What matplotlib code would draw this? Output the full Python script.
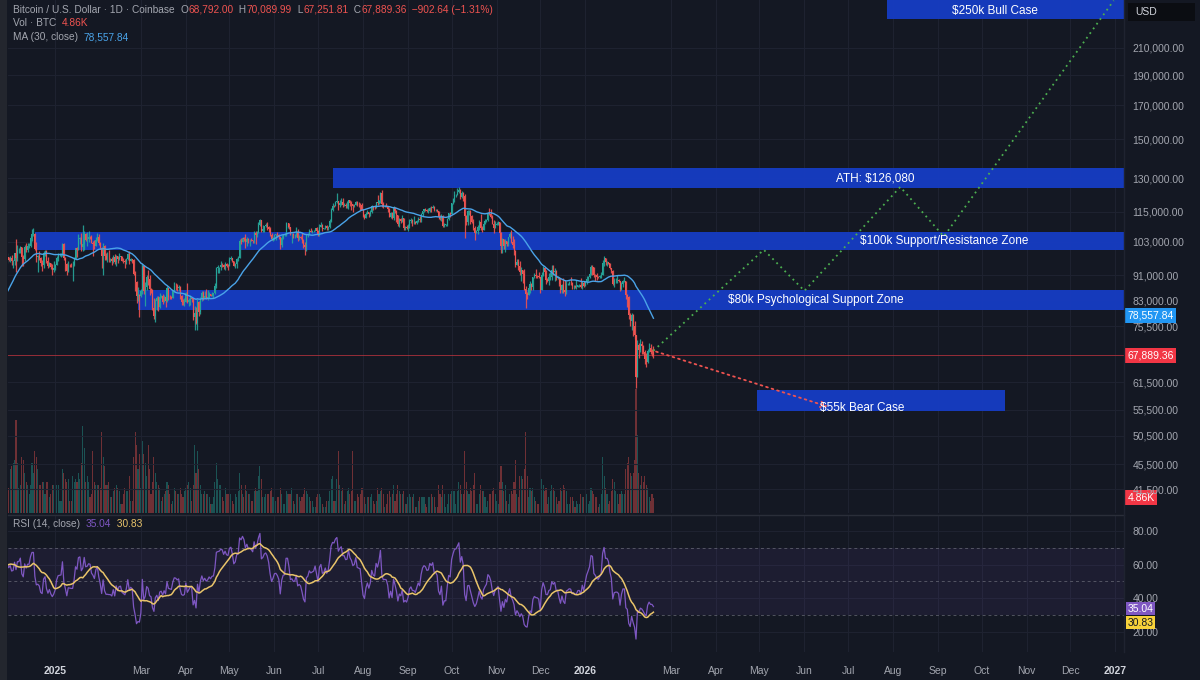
import matplotlib
matplotlib.use("Agg")
import matplotlib.pyplot as plt
import matplotlib.dates as mdates
import matplotlib.transforms as mtransforms
from matplotlib.patches import Rectangle
from matplotlib.ticker import NullLocator
import numpy as np
import pandas as pd

plt.rcParams['font.family'] = ['Liberation Sans', 'DejaVu Sans']

# ---------------- data ----------------
# prices in thousand USD, volume in thousand BTC, one value per day

# closes before the visible window (2024-10-30 .. 2024-11-28), only for MA / RSI warm-up
warmup_close = [72.3, 70.2, 69.5, 69.3, 68.7, 67.8, 69.4, 75.6, 75.9, 76.5,
                76.7, 80.4, 88.7, 87.9, 90.1, 87.3, 91.1, 90.6, 89.8, 90.5,
                92.3, 94.3, 98.4, 98.9, 97.7, 98.0, 93.1, 91.9, 95.9, 95.6]

first_day = "2024-11-29"

close = [
    97.5, 96.4,
    # dec 2024
    97.2, 95.8, 96.0, 98.8, 97.0, 99.9, 99.9, 101.2, 97.4, 96.6,
    101.1, 100.0, 101.4, 101.4, 104.3, 106.1, 106.1, 100.2, 97.5, 97.7,
    97.2, 95.1, 94.7, 98.7, 99.4, 95.8, 94.2, 95.2, 93.7, 92.8, 93.4,
    # jan 2025
    94.4, 96.9, 98.1, 98.2, 98.3, 102.1, 96.9, 95.0, 92.5, 94.7,
    94.6, 94.5, 94.5, 96.5, 100.5, 99.9, 104.1, 104.4, 101.1, 102.0,
    106.1, 103.7, 103.9, 104.8, 104.7, 102.6, 102.1, 101.3, 103.7, 104.7, 102.4,
    # feb
    100.6, 97.7, 101.4, 97.9, 96.6, 96.6, 96.5, 96.5, 96.1, 97.4,
    95.7, 97.9, 96.6, 97.5, 97.6, 96.1, 95.8, 95.5, 96.6, 98.3,
    96.1, 96.6, 96.3, 91.5, 88.7, 84.3, 84.7, 84.4,
    # mar
    86.0, 94.3, 86.1, 87.2, 90.6, 89.9, 86.7, 86.2, 80.7, 78.5,
    82.9, 83.7, 81.1, 84.0, 84.3, 82.6, 84.0, 82.7, 86.8, 84.2,
    84.0, 83.8, 86.1, 87.5, 87.4, 86.9, 87.2, 84.4, 82.6, 82.3, 82.5,
    # apr
    85.2, 82.5, 83.1, 83.8, 83.5, 78.2, 79.2, 76.3, 82.6, 79.6,
    83.4, 85.3, 83.7, 84.5, 83.6, 84.0, 84.9, 84.4, 85.1, 85.2,
    87.5, 93.4, 93.7, 93.9, 94.7, 94.6, 93.8, 94.9, 94.3, 94.2,
    # may
    96.5, 96.9, 95.9, 94.3, 94.8, 96.8, 97.0, 103.2, 102.9, 104.6,
    104.1, 102.8, 104.2, 103.5, 103.7, 103.5, 103.2, 106.5, 105.6, 106.8,
    109.6, 111.7, 107.3, 107.8, 109.0, 109.4, 108.9, 107.8, 105.6, 103.9, 104.6,
    # jun
    105.7, 105.8, 105.4, 104.7, 101.6, 104.4, 105.6, 105.7, 110.3, 110.3,
    108.7, 105.9, 106.1, 105.5, 105.6, 106.8, 104.6, 104.9, 104.6, 103.3,
    101.6, 100.9, 105.6, 106.0, 107.3, 106.9, 107.1, 107.3, 108.4, 107.1,
    # jul
    105.7, 108.9, 109.6, 108.0, 108.2, 109.2, 108.3, 108.9, 111.3, 115.9,
    117.5, 117.4, 119.1, 119.8, 117.7, 118.7, 119.3, 117.9, 117.9, 117.3,
    117.4, 119.9, 118.8, 118.4, 117.6, 117.9, 119.4, 118.0, 117.9, 117.8, 115.8,
    # aug
    113.3, 112.5, 114.2, 115.1, 114.1, 115.0, 117.5, 116.7, 116.5, 119.3,
    118.7, 120.2, 123.3, 118.4, 117.4, 117.5, 117.4, 116.2, 112.9, 114.3,
    112.5, 116.9, 115.4, 113.5, 110.1, 111.8, 111.2, 112.6, 108.4, 108.8, 108.2,
    # sep
    109.2, 111.2, 111.7, 110.7, 110.7, 110.2, 111.1, 112.1, 111.5, 113.9,
    115.5, 116.1, 115.9, 115.3, 115.4, 116.8, 116.5, 117.1, 115.7, 115.7,
    115.3, 112.7, 112.0, 113.3, 109.0, 109.7, 109.7, 112.1, 114.4, 114.1,
    # oct
    118.6, 120.6, 122.3, 122.4, 123.5, 124.8, 121.4, 123.3, 121.7, 113.2,
    110.6, 115.2, 115.3, 113.1, 110.8, 108.2, 106.5, 107.2, 108.7, 110.6,
    108.5, 107.6, 110.1, 111.0, 111.7, 114.6, 114.1, 112.9, 110.1, 108.3, 109.6,
    # nov
    110.1, 110.6, 106.5, 101.5, 103.9, 101.3, 103.4, 102.3, 104.7, 106.0,
    103.0, 101.7, 99.7, 94.4, 95.5, 94.2, 92.2, 92.9, 91.5, 86.6,
    85.1, 84.7, 86.8, 88.3, 87.3, 90.5, 91.3, 90.9, 90.8, 90.4,
    # dec
    86.3, 91.3, 93.5, 92.1, 89.4, 89.3, 90.4, 90.6, 92.7, 92.0,
    92.5, 90.3, 90.3, 88.2, 86.4, 87.9, 86.2, 85.5, 88.1, 88.3,
    88.6, 88.5, 87.4, 87.6, 87.2, 87.3, 87.8, 87.8, 87.1, 88.4, 87.5,
    # jan 2026
    88.7, 89.9, 90.6, 91.4, 93.8, 93.7, 91.3, 91.0, 90.5, 90.4,
    90.8, 91.2, 95.3, 97.0, 95.5, 95.5, 95.1, 93.6, 92.6, 88.3,
    89.4, 89.5, 89.5, 89.2, 86.6, 88.3, 89.2, 89.2, 84.6, 84.1, 78.6,
    # feb 2026
    76.9, 78.7, 75.7, 73.0, 62.7, 70.5, 69.3, 70.6, 70.1, 68.8,
    67.0, 66.2, 68.9, 69.8, 68.8, 68.79, 67.889,
]

high = [
    98.7, 97.5,
    97.9, 98.2, 96.4, 99.0, 103.9, 101.9, 100.5, 101.3, 101.2, 98.2,
    101.9, 102.5, 102.5, 102.6, 105.2, 107.8, 108.3, 106.5, 102.8, 98.1,
    99.5, 97.4, 96.4, 99.4, 99.9, 99.9, 97.3, 95.5, 95.2, 94.9, 96.1,
    94.9, 97.8, 98.9, 98.7, 98.8, 102.5, 102.7, 97.3, 95.4, 95.8,
    95.0, 95.4, 95.9, 97.4, 100.7, 100.9, 105.9, 104.9, 106.3, 109.4,
    107.3, 106.4, 106.8, 107.1, 105.3, 105.4, 103.2, 103.8, 104.8, 106.4, 106.0,
    102.8, 101.0, 102.5, 101.7, 98.8, 99.2, 100.1, 96.9, 97.3, 98.0,
    98.4, 98.1, 97.3, 98.8, 97.9, 97.7, 97.0, 96.7, 96.9, 98.7,
    99.5, 96.9, 96.7, 96.5, 92.5, 89.3, 87.1, 85.1,
    86.5, 95.0, 94.4, 88.9, 91.0, 92.8, 91.2, 86.9, 86.5, 83.9,
    83.6, 84.4, 84.3, 85.3, 84.6, 85.0, 84.7, 84.1, 87.4, 87.0,
    84.8, 84.4, 86.1, 88.7, 88.4, 88.2, 87.7, 87.4, 84.6, 83.5, 83.9,
    85.5, 88.5, 83.9, 84.7, 84.2, 83.8, 81.2, 80.9, 83.6, 82.7,
    84.2, 85.9, 86.0, 85.8, 86.5, 86.4, 85.5, 85.1, 85.6, 85.3,
    88.5, 93.8, 94.7, 94.0, 95.8, 95.3, 95.0, 95.6, 95.4, 95.0,
    97.4, 97.9, 96.9, 96.0, 95.2, 96.9, 97.7, 103.9, 104.3, 104.9,
    104.9, 105.8, 104.9, 104.3, 104.1, 104.5, 103.7, 107.1, 107.1, 107.3,
    110.8, 111.9, 111.7, 109.5, 109.3, 110.4, 110.7, 109.3, 108.9, 106.4, 104.9,
    105.9, 105.9, 106.8, 105.9, 105.0, 105.4, 106.0, 106.4, 110.6, 110.4,
    110.4, 108.7, 106.2, 106.2, 106.0, 108.9, 107.8, 105.6, 105.2, 106.5,
    104.0, 103.0, 106.1, 106.3, 108.1, 108.2, 107.7, 107.5, 108.5, 108.8,
    107.5, 109.8, 110.6, 109.8, 108.4, 109.7, 109.7, 109.2, 111.9, 116.8,
    118.9, 118.0, 119.5, 123.2, 119.8, 120.1, 120.9, 120.9, 118.6, 118.9,
    119.7, 120.3, 120.1, 119.5, 118.4, 118.3, 119.8, 119.8, 119.3, 118.8, 118.9,
    116.1, 114.0, 114.7, 115.7, 115.1, 115.7, 117.7, 117.6, 117.9, 119.3,
    122.3, 120.3, 123.7, 124.5, 119.2, 117.9, 118.6, 117.6, 116.8, 114.7,
    114.8, 117.3, 117.0, 115.6, 113.6, 112.4, 112.6, 113.5, 112.6, 109.0, 109.5,
    109.9, 111.8, 112.6, 112.0, 113.4, 111.3, 111.6, 112.9, 113.3, 114.3,
    115.5, 116.3, 116.8, 116.1, 116.8, 117.0, 117.3, 117.9, 117.5, 116.1,
    116.0, 115.4, 113.5, 113.9, 113.6, 110.3, 109.8, 112.4, 114.5, 114.8,
    118.7, 121.0, 123.9, 122.9, 125.6, 126.1, 125.1, 124.2, 123.8, 122.6,
    113.6, 115.7, 115.9, 115.6, 113.6, 111.8, 109.2, 107.5, 109.4, 111.7,
    114.0, 109.0, 111.2, 112.0, 111.9, 115.0, 116.4, 116.0, 113.6, 111.7, 111.2,
    110.6, 111.2, 110.7, 106.6, 104.5, 104.2, 104.1, 103.4, 105.0, 106.7,
    107.5, 105.3, 104.1, 99.8, 96.7, 96.6, 96.0, 93.8, 93.0, 93.2,
    87.5, 85.6, 88.0, 89.2, 88.6, 90.6, 91.9, 93.1, 91.2, 92.0,
    90.4, 92.3, 94.1, 94.0, 92.7, 90.3, 91.7, 92.3, 94.6, 94.5,
    93.6, 92.8, 90.7, 90.6, 90.1, 88.2, 90.3, 89.5, 89.0, 88.6,
    89.1, 90.5, 88.9, 87.9, 88.0, 89.5, 88.0, 88.3, 90.3, 89.1, 89.3,
    88.9, 90.9, 90.7, 91.8, 94.7, 94.4, 93.7, 91.6, 91.9, 90.9,
    91.3, 92.3, 96.2, 97.9, 97.1, 95.9, 95.6, 95.4, 93.5, 92.9,
    90.3, 90.3, 91.1, 89.8, 89.3, 88.8, 89.5, 90.6, 89.3, 84.9, 84.3,
    79.4, 79.3, 79.0, 76.9, 73.1, 71.7, 71.0, 72.1, 71.5, 70.5,
    69.2, 68.4, 69.5, 70.9, 70.6, 69.5, 70.09,
]

low = [
    95.4, 96.1,
    95.7, 94.5, 93.6, 94.7, 92.1, 95.9, 99.0, 98.7, 94.2, 94.3,
    95.9, 99.3, 99.2, 100.6, 101.2, 103.3, 105.3, 100.0, 95.7, 92.2,
    96.4, 94.2, 92.4, 93.4, 97.6, 95.2, 93.5, 94.0, 93.3, 91.3, 92.0,
    92.7, 94.4, 96.0, 97.8, 97.3, 97.9, 96.2, 92.5, 91.2, 92.2,
    93.8, 93.7, 89.3, 94.3, 96.5, 97.4, 99.9, 102.3, 99.6, 99.5,
    100.1, 103.3, 101.3, 102.8, 104.1, 102.5, 97.8, 100.3, 101.3, 103.3, 101.6,
    100.3, 93.4, 91.2, 96.2, 96.2, 95.7, 95.6, 95.7, 94.7, 95.3,
    94.9, 94.1, 95.2, 96.3, 97.2, 96.0, 95.2, 93.4, 95.0, 96.4,
    94.9, 96.0, 95.2, 91.3, 86.1, 82.3, 82.8, 78.2,
    84.0, 85.0, 85.1, 81.4, 86.3, 87.8, 84.7, 85.3, 80.0, 77.5,
    76.6, 80.1, 79.9, 80.8, 83.7, 82.0, 82.5, 81.1, 82.6, 83.2,
    83.6, 83.6, 83.8, 85.6, 86.3, 85.9, 85.8, 83.6, 81.6, 81.6, 81.3,
    82.4, 82.3, 81.2, 81.7, 82.4, 77.2, 74.5, 76.2, 74.6, 78.5,
    78.9, 82.8, 83.0, 83.7, 83.6, 83.1, 83.9, 84.3, 84.4, 83.9,
    85.1, 87.0, 91.9, 91.7, 92.9, 93.9, 93.1, 92.9, 93.7, 92.9,
    94.1, 96.3, 95.7, 94.2, 93.5, 93.4, 95.8, 96.9, 102.2, 102.8,
    103.1, 100.8, 101.4, 102.6, 101.4, 103.1, 102.6, 102.6, 102.0, 104.9,
    106.3, 109.3, 106.9, 106.9, 106.7, 108.9, 107.5, 106.7, 105.3, 103.7, 103.1,
    103.8, 103.7, 104.9, 104.2, 100.4, 101.1, 104.0, 105.1, 105.3, 108.4,
    108.1, 105.7, 102.7, 104.3, 104.5, 105.0, 103.4, 103.5, 103.9, 102.4,
    100.8, 98.2, 99.6, 104.7, 105.8, 106.6, 106.4, 106.7, 107.2, 106.8,
    105.3, 105.2, 108.6, 107.3, 107.8, 107.8, 107.5, 107.5, 108.4, 110.6,
    115.2, 117.1, 117.3, 118.9, 115.8, 117.0, 117.8, 116.9, 117.3, 116.5,
    116.5, 116.1, 117.3, 115.9, 114.7, 117.2, 117.8, 117.5, 117.2, 115.9, 115.6,
    112.7, 112.0, 112.2, 114.0, 112.7, 113.4, 114.3, 115.9, 116.3, 116.5,
    118.1, 118.3, 118.9, 117.2, 116.8, 117.2, 117.2, 114.7, 112.7, 112.4,
    111.9, 111.7, 114.6, 110.7, 109.3, 108.7, 110.4, 110.9, 107.4, 107.5, 107.9,
    107.3, 108.5, 110.5, 109.3, 110.0, 110.0, 110.0, 110.6, 110.8, 110.9,
    113.4, 114.7, 115.3, 114.8, 114.3, 114.8, 114.7, 116.4, 115.2, 115.5,
    115.1, 111.9, 111.5, 111.1, 108.6, 108.7, 109.1, 109.2, 111.6, 112.7,
    113.9, 118.3, 119.4, 121.6, 122.1, 123.1, 120.6, 121.1, 119.7, 104.6,
    109.7, 109.7, 113.8, 109.8, 110.2, 107.5, 103.5, 106.4, 106.1, 107.5,
    107.4, 106.9, 107.5, 109.9, 110.9, 111.3, 113.8, 112.2, 109.9, 106.3, 108.6,
    109.4, 109.6, 105.3, 98.9, 98.9, 100.3, 99.3, 101.5, 101.4, 104.4,
    102.5, 100.8, 98.0, 94.0, 94.6, 93.0, 91.2, 89.3, 88.6, 86.2,
    80.6, 83.5, 84.7, 85.3, 86.2, 86.3, 90.1, 90.2, 90.2, 90.3,
    85.3, 86.2, 90.9, 90.9, 88.1, 88.9, 87.7, 89.6, 89.6, 91.3,
    89.3, 89.5, 89.8, 87.6, 85.2, 85.3, 85.4, 84.4, 85.1, 87.9,
    87.7, 87.9, 86.6, 86.5, 86.9, 86.7, 87.1, 87.3, 86.8, 86.6, 87.3,
    87.4, 88.3, 89.3, 90.3, 91.3, 91.2, 90.6, 89.3, 89.6, 90.1,
    90.2, 90.1, 91.0, 94.3, 94.6, 94.3, 94.9, 93.3, 91.9, 87.9,
    87.2, 88.4, 88.6, 88.9, 86.1, 86.2, 87.2, 88.7, 83.4, 81.1, 77.6,
    75.7, 74.5, 72.9, 72.1, 60.1, 62.6, 67.3, 68.8, 68.3, 68.2,
    65.8, 65.1, 65.9, 68.6, 68.3, 67.8, 67.25,
]

volume = [
    12, 8,
    14, 15, 16, 17, 30, 16, 8, 9, 18, 17, 13, 10, 9, 6, 9, 16, 13, 20, 18, 14,
    9, 9, 10, 10, 6, 10, 10, 5, 6, 9, 9,
    6, 9, 9, 4, 4, 14, 13, 11, 10, 11, 4, 4, 12, 10, 11, 10, 13, 11, 16, 28,
    21, 10, 12, 10, 5, 6, 20, 10, 9, 9, 9,
    8, 26, 18, 15, 9, 9, 10, 5, 5, 7, 8, 9, 8, 7, 3, 3, 6, 8, 7, 7,
    12, 4, 4, 18, 26, 22, 14, 19,
    8, 23, 19, 16, 12, 22, 14, 6, 10, 18, 13, 10, 9, 8, 4, 5, 6, 7, 10, 9,
    6, 3, 4, 8, 7, 6, 6, 8, 6, 5, 7,
    8, 9, 10, 8, 4, 9, 22, 13, 20, 14, 9, 6, 6, 7, 6, 6, 5, 3, 3, 5,
    10, 16, 11, 9, 9, 5, 4, 8, 6, 6,
    8, 6, 4, 3, 6, 5, 7, 13, 9, 6, 5, 9, 7, 6, 6, 4, 4, 7, 8, 7,
    12, 15, 11, 5, 5, 6, 6, 6, 7, 8, 5,
    3, 4, 5, 5, 8, 6, 3, 3, 7, 6, 6, 6, 8, 4, 3, 6, 6, 5, 4, 5,
    6, 8, 7, 6, 5, 4, 4, 2, 2, 5,
    6, 6, 5, 3, 2, 2, 4, 4, 7, 11, 12, 4, 4, 11, 20, 9, 7, 8, 3, 4,
    7, 8, 6, 7, 20, 4, 4, 6, 5, 6, 8,
    8, 5, 3, 5, 5, 5, 6, 4, 3, 4, 8, 6, 7, 8, 6, 2, 3, 6, 7, 5,
    6, 9, 4, 6, 9, 7, 6, 6, 7, 3, 3,
    5, 6, 5, 5, 6, 2, 2, 4, 5, 5, 5, 5, 3, 2, 5, 5, 6, 5, 5, 2,
    2, 9, 6, 5, 9, 6, 2, 3, 6, 6,
    7, 7, 7, 3, 7, 10, 9, 6, 6, 20, 10, 7, 6, 8, 7, 9, 13, 3, 3, 6,
    9, 7, 7, 5, 2, 4, 6, 6, 7, 8, 6,
    4, 3, 10, 15, 10, 7, 9, 4, 3, 6, 7, 6, 10, 17, 6, 5, 12, 12, 11, 14,
    26, 12, 5, 8, 7, 8, 5, 4, 3, 3,
    15, 11, 9, 7, 8, 3, 5, 7, 9, 8, 7, 5, 3, 4, 8, 7, 9, 8, 7, 3,
    3, 5, 5, 4, 2, 4, 3, 3, 6, 5, 5,
    4, 6, 3, 4, 8, 7, 6, 5, 5, 2, 3, 6, 18, 12, 8, 6, 3, 4, 7, 11,
    10, 7, 6, 3, 6, 7, 6, 6, 14, 16, 18,
    13, 12, 13, 17, 40, 25, 13, 9, 12, 10, 12, 9, 8, 5, 4, 6, 4.86,
]

# zones drawn on the chart
zone_labels = ["ATH: $126,080", "$100k Support/Resistance Zone",
               "$80k Psychological Support Zone", "$55k Bear Case", "$250k Bull Case"]
zone_start = ["2025-07-11", "2024-12-18", "2025-02-27", "2026-04-29", "2026-07-28"]
zone_end = ["2027-03-01", "2027-03-01", "2027-03-01", "2026-10-17", "2027-03-01"]
zone_low = [125.5, 100.0, 80.2, 55.3, 233.6]
zone_high = [135.0, 106.8, 86.3, 59.7, 252.0]

# scenario paths
bull_dates = ["2026-02-17", "2026-05-04", "2026-06-01", "2026-08-06", "2026-09-05", "2026-12-31"]
bull_price = [69.0, 100.0, 86.0, 126.0, 105.0, 250.0]
bear_dates = ["2026-02-17", "2026-06-19"]
bear_price = [69.0, 56.0]

price_ticks = [210, 190, 170, 150, 130, 115, 103, 91, 83, 75.5, 61.5, 55.5, 50.5, 45.5, 41.5]
rsi_ticks = [80, 60, 40, 20]

# ---------------- computed series ----------------
dates = pd.date_range(first_day, periods=len(close), freq="D")
x = mdates.date2num(dates)
c = np.array(close)
o = np.array([warmup_close[-1]] + close[:-1])
h = np.maximum(np.array(high), np.maximum(o, c))
lo = np.minimum(np.array(low), np.minimum(o, c))

all_close = pd.Series(warmup_close + close)
all_x = mdates.date2num(pd.date_range(end=dates[-1], periods=len(all_close), freq="D"))
ma30 = all_close.rolling(30).mean()
d = all_close.diff()
gain = d.clip(lower=0).ewm(alpha=1 / 14, adjust=False).mean()
loss = (-d.clip(upper=0)).ewm(alpha=1 / 14, adjust=False).mean()
rsi = 100 - 100 / (1 + gain / loss)
rsi_ma = rsi.rolling(14).mean()

# ---------------- style ----------------
BG = "#141823"
GRID = "#1e2230"
TXT = "#a3a6af"
UP = "#26a69a"
DN = "#ef5350"
ZONE = "#163cc4"
MA_C = "#4aa3e8"
RSI_C = "#7e57c2"
RSIMA_C = "#e9c46a"

fig = plt.figure(figsize=(12, 6.8), dpi=100, facecolor=BG)
W, H = 1200, 680
L, R = 8, 1124
ax = fig.add_axes([L / W, 1 - 513 / H, (R - L) / W, 513 / H])
axr = fig.add_axes([L / W, 1 - 652 / H, (R - L) / W, (652 - 516) / H], sharex=ax)
axv = ax.twinx()

axv.set_zorder(0)
ax.set_zorder(1)
ax.patch.set_visible(False)
axv.set_facecolor(BG)
axr.set_facecolor(BG)

xmin = mdates.date2num(pd.Timestamp("2024-11-29 12:00"))
xmax = mdates.date2num(pd.Timestamp("2027-01-07 02:00"))
ax.set_xlim(xmin, xmax)

# volume
vcol = np.where(c >= o, UP, DN)
axv.bar(x, volume, width=0.75, color=vcol, alpha=0.42, lw=0)
axv.set_ylim(0, 165)
axv.set_yticks([])
for s in axv.spines.values():
    s.set_visible(False)

# price pane
ax.set_yscale("log")
ax.set_ylim(38.0, 250.5)
ax.yaxis.set_minor_locator(NullLocator())
ax.set_yticks(price_ticks)
ax.set_yticklabels([f"{v * 1000:,.2f}" for v in price_ticks])
ax.yaxis.tick_right()
ax.tick_params(axis="y", length=0, pad=6, labelsize=7.5, labelcolor=TXT)
ax.tick_params(axis="x", length=0, labelbottom=False)

for s0, s1, zl, zh in zip(zone_start, zone_end, zone_low, zone_high):
    zx = mdates.date2num(pd.to_datetime([s0, s1]))
    ax.fill_between(zx, zl, zh, color=ZONE, lw=0, alpha=0.95, zorder=1)

ax.axhline(close[-1], color="#b8333d", lw=0.7, alpha=0.8, zorder=1.5)

ax.vlines(x, lo, h, colors=np.where(c >= o, UP, DN), lw=0.9, alpha=0.9, zorder=2)
ax.bar(x, np.maximum(np.abs(c - o), 0.12), bottom=np.minimum(o, c), width=0.7,
       color=np.where(c >= o, UP, DN), lw=0, zorder=2)
ax.plot(all_x, ma30, color=MA_C, lw=1.0, zorder=3)

bx = mdates.date2num(pd.to_datetime(bull_dates))
ax.plot(bx, bull_price, color="#4caf50", lw=1.3, ls=(0, (1, 2.2)), zorder=3)
ex = mdates.date2num(pd.to_datetime(bear_dates))
ax.annotate("", xy=(ex[1], bear_price[1]), xytext=(ex[0], bear_price[0]),
            arrowprops=dict(arrowstyle="->", color=DN, lw=1.3, ls=(0, (1, 2.2))), zorder=3)

label_pos = [("2026-07-20", 130.0), ("2026-09-05", 103.4), ("2026-06-09", 83.2),
             ("2026-07-11", 56.0), ("2026-10-10", 241.0)]
for txt, (ld, lp) in zip(zone_labels, label_pos):
    ax.text(mdates.date2num(pd.Timestamp(ld)), lp, txt, color="white", fontsize=8.5,
            ha="center", va="center", zorder=4)

# rsi pane
axr.axhspan(30, 70, color=RSI_C, alpha=0.09, lw=0)
for lvl in (70, 50, 30):
    axr.axhline(lvl, color="#787b86", lw=0.7, ls=(0, (3, 3)), alpha=0.6)
axr.plot(all_x, rsi, color=RSI_C, lw=0.9)
axr.plot(all_x, rsi_ma, color=RSIMA_C, lw=1.1)
axr.set_ylim(8.2, 88.8)
axr.set_yticks(rsi_ticks)
axr.set_yticklabels([f"{v:.2f}" for v in rsi_ticks])
axr.yaxis.tick_right()
axr.tick_params(axis="y", length=0, pad=6, labelsize=7.5, labelcolor=TXT)

# time axis
tick_d = [pd.Timestamp(y, m, 1) for y in (2025, 2026) for m in [1] + list(range(3, 13))]
tick_d.append(pd.Timestamp(2027, 1, 1))
tick_lab = [t.strftime("%Y") if t.month == 1 else t.strftime("%b") for t in tick_d]
axr.set_xticks(mdates.date2num(tick_d))
axr.set_xticklabels(tick_lab)
axr.tick_params(axis="x", length=0, pad=10, labelsize=7.5, labelcolor=TXT)
for t in axr.get_xticklabels():
    if t.get_text().isdigit():
        t.set_fontweight("bold")
        t.set_color("#d1d4dc")

for a in (ax, axr):
    a.grid(True, color=GRID, lw=0.8)
    a.set_axisbelow(True)
    for s in a.spines.values():
        s.set_visible(False)
fig.add_artist(plt.Line2D([L / W, R / W], [1 - 514.5 / H] * 2, color="#2a2e39", lw=1))
fig.add_artist(plt.Line2D([R / W] * 2, [1 - 652 / H, 1], color="#1f2330", lw=1))

# right-axis value boxes
def axis_box(a, y, txt, fc, tc="white", pad=0.25):
    a.text(1.003, y, txt, transform=a.get_yaxis_transform(), fontsize=7.5, color=tc,
           ha="left", va="center", zorder=6, clip_on=False,
           bbox=dict(boxstyle=f"square,pad={pad}", fc=fc, ec="none"))

axis_box(ax, 78.55784, "78,557.84", "#2196f3")
axis_box(ax, close[-1], "67,889.36", "#f23645")
axis_box(axv, 4.86, "4.86K", "#f23645")
axis_box(axr, 33.9, "35.04", RSI_C, pad=0.15)
axis_box(axr, 25.6, "30.83", "#f7d23a", "#131722", pad=0.15)

fig.add_artist(Rectangle((1128 / W, 1 - 21 / H), 67 / W, 18 / H, transform=fig.transFigure,
                         fc="#0b0d12", ec="none"))
fig.text(1135 / W, 1 - 12 / H, "USD", color="#d1d4dc", fontsize=7.5, va="center")
fig.add_artist(Rectangle((0, 0), 7 / W, 1, transform=fig.transFigure, fc="#23262e", ec="none"))

# legend lines (multi-colour runs)
fig.canvas.draw()
renderer = fig.canvas.get_renderer()
ident = mtransforms.IdentityTransform()

def run(xp, yp, parts, size=7.3):
    for s, col in parts:
        t = fig.text(xp, H - yp, s, color=col, fontsize=size, va="center", ha="left",
                     transform=ident)
        xp = t.get_window_extent(renderer).x1

run(13, 10, [("Bitcoin / U.S. Dollar · 1D · Coinbase  ", TXT), ("O", TXT), ("68,792.00", DN),
             ("  H", TXT), ("70,089.99", DN), ("  L", TXT), ("67,251.81", DN), ("  C", TXT),
             ("67,889.36", DN), ("  \u2212902.64 (\u22121.31%)", DN)])
run(13, 23, [("Vol · BTC  ", TXT), ("4.86K", DN)])
run(13, 37, [("MA (30, close)  ", TXT), ("78,557.84", MA_C)])
run(13, 524, [("RSI (14, close)  ", TXT), ("35.04", RSI_C), ("  30.83", RSIMA_C)])

fig.savefig("out.png", dpi=100, facecolor=BG)
